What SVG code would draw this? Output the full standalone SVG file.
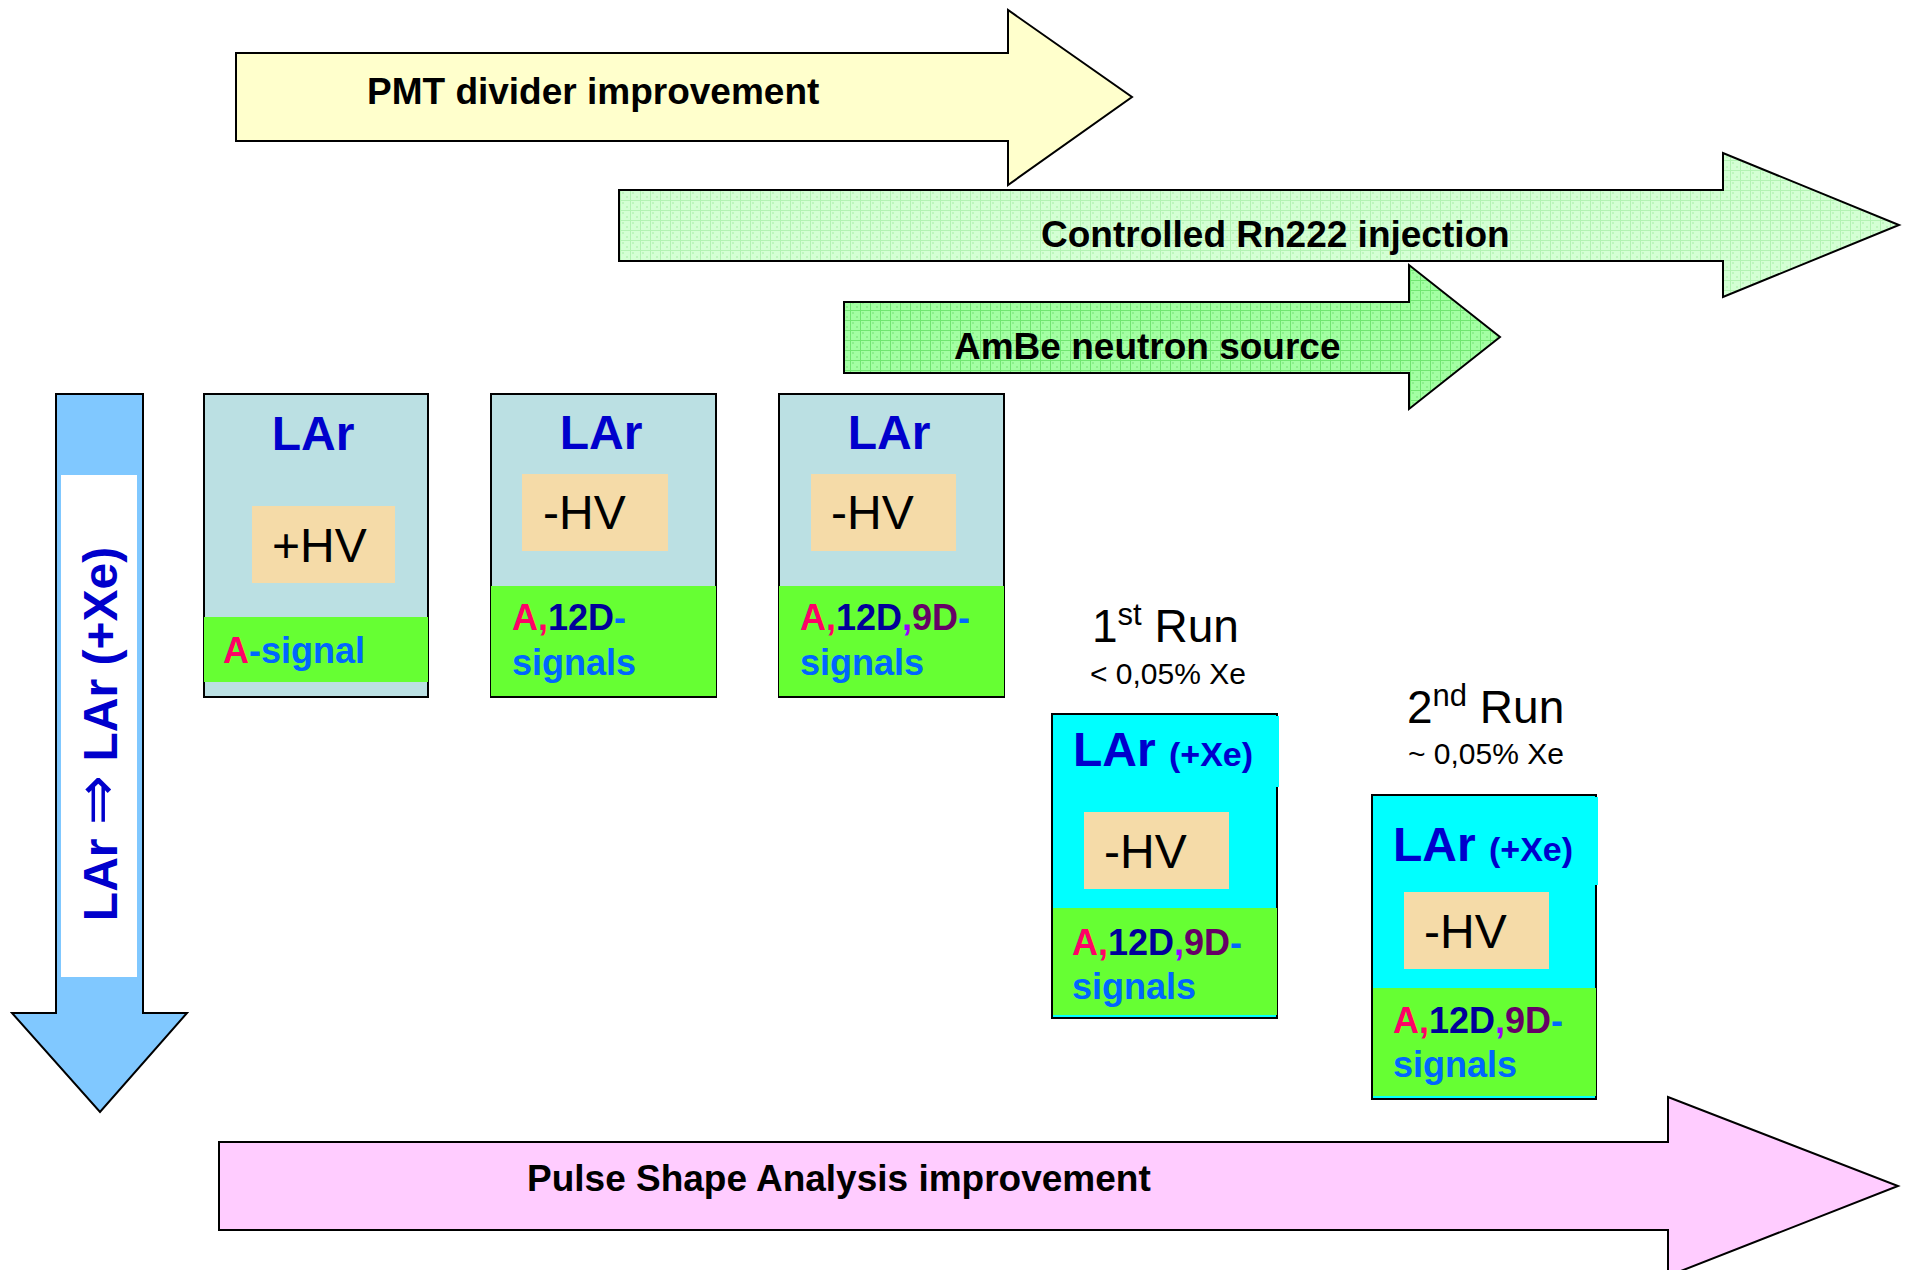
<svg xmlns="http://www.w3.org/2000/svg" width="1906" height="1270" viewBox="0 0 1906 1270">
<defs>
<pattern id="hatchLight" width="10" height="10" patternUnits="userSpaceOnUse">
<rect width="10" height="10" fill="#D4FFD4"/>
<rect x="2" y="2" width="2" height="2" fill="#BDF7BD"/>
<rect x="6" y="6" width="2" height="2" fill="#BDF7BD"/>
<path d="M0 0.5H10M0.5 0V10" stroke="#B2F2B2" stroke-width="1"/>
</pattern>
<pattern id="hatchMid" width="10" height="10" patternUnits="userSpaceOnUse">
<rect width="10" height="10" fill="#A3FFA3"/>
<rect x="2" y="2" width="2" height="2" fill="#8CF08C"/>
<rect x="6" y="6" width="2" height="2" fill="#8CF08C"/>
<path d="M0 0.5H10M0.5 0V10" stroke="#70E670" stroke-width="1"/>
</pattern>
</defs>
<style>
.arrow{stroke:#000;stroke-width:2;stroke-linejoin:miter}
.lbl{font-family:"Liberation Sans",Arial,sans-serif;font-weight:bold;font-size:37px;fill:#000}
.box{stroke:#000;stroke-width:2}
.lar{fill:#BBE0E3}
.hv{fill:#F5DBA8}
.grn{fill:#66FF33}
.title{font-family:"Liberation Sans",Arial,sans-serif;font-weight:bold;font-size:48px;fill:#0000CC}
.hvt{font-family:"Liberation Sans",Arial,sans-serif;font-size:48px;fill:#000}
.sig{font-family:"Liberation Sans",Arial,sans-serif;font-weight:bold;font-size:36px;fill:#0066FF}
.run{font-family:"Liberation Sans",Arial,sans-serif;fill:#000}
.cA{fill:#FF0066}.c12{fill:#000099}.cc{fill:#9900FF}.c9{fill:#660066}.cb{fill:#0066FF}
</style>

<g id="connectors">
<g id="arrow-pmt">
<polygon class="arrow" fill="#FFFFCC" points="236,53 1008,53 1008,10 1132,97 1008,185 1008,141 236,141"/>
<text class="lbl" x="367" y="104">PMT divider improvement</text>
</g>
<g id="arrow-rn222">
<polygon class="arrow" fill="url(#hatchLight)" points="619,190 1723,190 1723,153 1899,225 1723,297 1723,261 619,261"/>
<text class="lbl" x="1041" y="247">Controlled Rn222 injection</text>
</g>
<g id="arrow-ambe">
<polygon class="arrow" fill="url(#hatchMid)" points="844,302 1409,302 1409,265 1500,337 1409,409 1409,373 844,373"/>
<text class="lbl" x="954" y="359">AmBe neutron source</text>
</g>
<g id="arrow-psa">
<polygon class="arrow" fill="#FFCCFF" points="219,1142 1668,1142 1668,1097 1898,1186 1668,1276 1668,1230 219,1230"/>
<text class="lbl" x="527" y="1191">Pulse Shape Analysis improvement</text>
</g>
<g id="arrow-lar">
<polygon class="arrow" fill="#80C8FF" points="56,394 143,394 143,1013 187,1013 100,1112 12,1013 56,1013"/>
<rect x="61" y="475" width="76" height="502" fill="#FFFFFF"/>
<text class="title" font-size="49" transform="translate(117,734) rotate(-90)" text-anchor="middle">LAr <tspan font-weight="normal" font-family="DejaVu Sans,sans-serif" font-size="60">⇒</tspan> LAr (+Xe)</text>
</g>
</g>

<g id="box-lar-pos">
<rect class="box lar" x="204" y="394" width="224" height="303"/>
<rect class="hv" x="252" y="506" width="143" height="77"/>
<rect class="grn" x="204" y="617" width="224" height="65"/>
<text class="title" x="313" y="450" text-anchor="middle">LAr</text>
<text class="hvt" x="272" y="562">+HV</text>
<text class="sig" x="223" y="663"><tspan class="cA">A</tspan>-signal</text>
</g>

<g id="box-lar-neg1">
<rect class="box lar" x="491" y="394" width="225" height="303"/>
<rect class="hv" x="522" y="474" width="146" height="77"/>
<rect class="grn" x="491" y="586" width="225" height="110"/>
<text class="title" x="601" y="449" text-anchor="middle">LAr</text>
<text class="hvt" x="543" y="529">-HV</text>
<text class="sig" x="512" y="630"><tspan class="cA">A,</tspan><tspan class="c12">12D</tspan>-</text>
<text class="sig" x="512" y="675">signals</text>
</g>

<g id="box-lar-neg2">
<rect class="box lar" x="779" y="394" width="225" height="303"/>
<rect class="hv" x="811" y="474" width="145" height="77"/>
<rect class="grn" x="779" y="586" width="225" height="110"/>
<text class="title" x="889" y="449" text-anchor="middle">LAr</text>
<text class="hvt" x="831" y="529">-HV</text>
<text class="sig" x="800" y="630"><tspan class="cA">A,</tspan><tspan class="c12">12D</tspan><tspan class="cc">,</tspan><tspan class="c9">9D</tspan>-</text>
<text class="sig" x="800" y="675">signals</text>
</g>

<g id="label-run1">
<text class="run" x="1092" y="642" font-size="46">1<tspan font-size="31" dy="-17">st</tspan><tspan dy="17"> Run</tspan></text>
<text class="run" x="1090" y="684" font-size="30">&lt; 0,05% Xe</text>
</g>

<g id="box-run1">
<rect class="box" fill="#00FFFF" x="1052" y="714" width="225" height="304"/>
<rect fill="#00FFFF" x="1275" y="716" width="4" height="71"/>
<rect class="hv" x="1084" y="812" width="145" height="77"/>
<rect class="grn" x="1053" y="908" width="224" height="107"/>
<text class="title" x="1073" y="766" font-size="41">LAr <tspan font-size="34">(+Xe)</tspan></text>
<text class="hvt" x="1104" y="868">-HV</text>
<text class="sig" x="1072" y="955"><tspan class="cA">A,</tspan><tspan class="c12">12D</tspan><tspan class="cc">,</tspan><tspan class="c9">9D</tspan>-</text>
<text class="sig" x="1072" y="999">signals</text>
</g>

<g id="label-run2">
<text class="run" x="1407" y="723" font-size="46">2<tspan font-size="31" dy="-17">nd</tspan><tspan dy="17"> Run</tspan></text>
<text class="run" x="1408" y="764" font-size="30">~ 0,05% Xe</text>
</g>

<g id="box-run2">
<rect class="box" fill="#00FFFF" x="1372" y="795" width="224" height="304"/>
<rect fill="#00FFFF" x="1594" y="797" width="4" height="88"/>
<rect class="hv" x="1404" y="892" width="145" height="77"/>
<rect class="grn" x="1373" y="988" width="223" height="108"/>
<text class="title" x="1393" y="861" font-size="41">LAr <tspan font-size="34">(+Xe)</tspan></text>
<text class="hvt" x="1424" y="948">-HV</text>
<text class="sig" x="1393" y="1033"><tspan class="cA">A,</tspan><tspan class="c12">12D</tspan><tspan class="cc">,</tspan><tspan class="c9">9D</tspan>-</text>
<text class="sig" x="1393" y="1077">signals</text>
</g>
</svg>
